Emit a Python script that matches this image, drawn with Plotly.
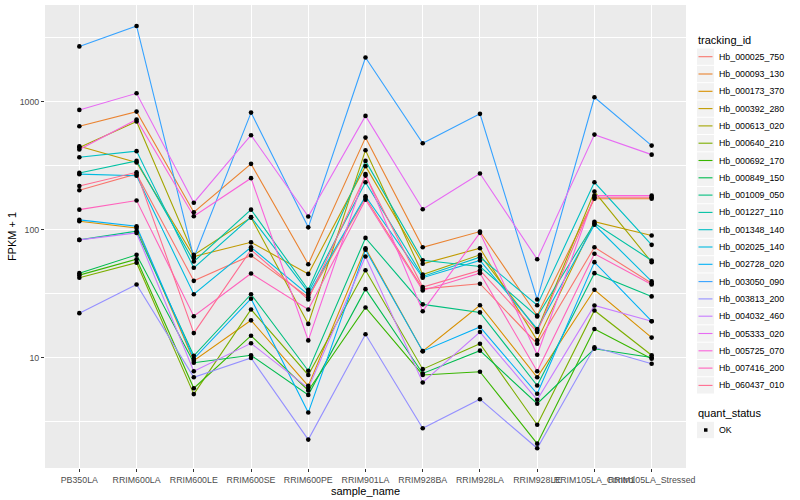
import plotly.graph_objects as go

samples = ["PB350LA", "RRIM600LA", "RRIM600LE", "RRIM600SE", "RRIM600PE", "RRIM901LA",
           "RRIM928BA", "RRIM928LA", "RRIM928LE", "RRIM105LA_Control", "RRIM105LA_Stressed"]

tracking_ids = ["Hb_000025_750", "Hb_000093_130", "Hb_000173_370", "Hb_000392_280", "Hb_000613_020",
                "Hb_000640_210", "Hb_000692_170", "Hb_000849_150", "Hb_001009_050", "Hb_001227_110",
                "Hb_001348_140", "Hb_002025_140", "Hb_002728_020", "Hb_003050_090", "Hb_003813_200",
                "Hb_004032_460", "Hb_005333_020", "Hb_005725_070", "Hb_007416_200", "Hb_060437_010"]

hb_000025_750 = [203, 272, 39.7, 62.7, 29.6, 177, 34.4, 37.7, 12.8, 72.7, 38]
hb_000093_130 = [641, 835, 136.5, 326, 53.6, 523, 72.7, 96.4, 21.3, 174, 174]
hb_000173_370 = [116, 103, 9.42, 19.5, 6.0, 71.4, 11.2, 25.6, 7.0, 33.8, 14.3]
hb_000392_280 = [448, 334, 61.5, 79.4, 45, 313, 54, 71.4, 13.6, 115, 89.8]
hb_000613_020 = [437, 700, 63.4, 124, 18.3, 417, 44.5, 63.4, 16.3, 198, 55.6]
hb_000640_210 = [42, 55, 5.17, 23.7, 7.3, 48.1, 8.1, 12.8, 2.98, 23.3, 10.4]
hb_000692_170 = [44, 58.6, 5.75, 14.8, 5.52, 24.6, 7.3, 7.73, 2.12, 16.7, 9.77]
hb_000849_150 = [45.6, 63.4, 9.1, 10.4, 5.1, 34.2, 7.5, 11.3, 4.35, 11.7, 10.0]
hb_001009_050 = [83, 97, 10.3, 31.2, 7.87, 86, 26, 22.5, 6.04, 45.6, 30]
hb_001227_110 = [277, 344, 56.2, 143, 33.8, 344, 57.5, 51.4, 20.9, 112, 57.3]
hb_001348_140 = [367, 410, 50.2, 125, 32.4, 234, 43, 60.8, 25.6, 234, 75.9]
hb_002025_140 = [271, 263, 31.2, 72.7, 30.9, 182, 42, 57.3, 16.7, 109, 39.3]
hb_002728_020 = [119, 106, 9.77, 28.8, 3.71, 69.4, 11.2, 17.3, 5.2, 55.6, 19.2]
hb_003050_090 = [2700, 3900, 60, 820, 104, 2210, 472, 802, 28.4, 1081, 453]
hb_003813_200 = [22.2, 37.2, 7.0, 9.9, 2.28, 15.2, 2.8, 4.72, 1.95, 12.0, 8.93]
hb_004032_460 = [83, 94, 7.8, 12.9, 5.76, 61.5, 6.38, 15.8, 4.67, 25.5, 19.2]
hb_005333_020 = [861, 1161, 162, 546, 126.5, 773, 144, 274, 58.6, 552, 385]
hb_005725_070 = [422, 724, 127, 252, 13.6, 272, 23, 94.2, 10.5, 184, 184]
hb_007416_200 = [143, 168.5, 21, 45.3, 23.7, 171, 33.4, 45.6, 7.8, 64.6, 37.2]
hb_060437_010 = [219, 280, 15.5, 69.4, 28.4, 264, 35.5, 47.9, 15.8, 179, 179]

series_values = [hb_000025_750, hb_000093_130, hb_000173_370, hb_000392_280, hb_000613_020,
                 hb_000640_210, hb_000692_170, hb_000849_150, hb_001009_050, hb_001227_110,
                 hb_001348_140, hb_002025_140, hb_002728_020, hb_003050_090, hb_003813_200,
                 hb_004032_460, hb_005333_020, hb_005725_070, hb_007416_200, hb_060437_010]

quant_status = ["OK"]

colors = ["#F8766D", "#EA8331", "#D89000", "#C09B00", "#A3A500", "#7CAE00", "#39B600", "#00BB4E",
          "#00BF7D", "#00C1A3", "#00BFC4", "#00BAE0", "#00B0F6", "#35A2FF", "#9590FF", "#C77CFF",
          "#E76BF3", "#FA62DB", "#FF62BC", "#FF6C90"]

y_tick_values = [10, 100, 1000]
y_minor_values = [3.1623, 31.623, 316.23, 3162.3]

FONT = "Liberation Sans"
W, H = 800, 500
ML, MR, MT, MB = 45, 114, 5, 32
PW, PH = W - ML - MR, H - MT - MB


def px_x(px):
    return (px - ML) / PW


def px_y(py):
    return (H - MB - py) / PH


fig = go.Figure()
for name, vals, col in zip(tracking_ids, series_values, colors):
    fig.add_trace(go.Scatter(x=samples, y=vals, mode="lines", name=name,
                             line=dict(color=col, width=1.1), hoverinfo="skip"))

all_x = [s for vals in series_values for s in samples]
all_y = [v for vals in series_values for v in vals]
fig.add_trace(go.Scatter(x=all_x, y=all_y, mode="markers", name=quant_status[0],
                         marker=dict(color="black", size=4.6, symbol="circle")))

# manual ggplot-style legend
shapes = []
annotations = []
key_left, key_right = 697, 714
row0, row_h = 56.7, 17.3
annotations.append(dict(text="tracking_id", x=px_x(696), y=px_y(40.5), xref="paper", yref="paper",
                        xanchor="left", yanchor="middle", showarrow=False,
                        font=dict(size=11, family=FONT, color="black")))
for i, (name, col) in enumerate(zip(tracking_ids, colors)):
    cy = row0 + i * row_h
    shapes.append(dict(type="rect", xref="paper", yref="paper",
                       x0=px_x(key_left), x1=px_x(key_right),
                       y0=px_y(cy - row_h / 2 + 0.5), y1=px_y(cy + row_h / 2 - 0.5),
                       fillcolor="#F2F2F2", line=dict(width=0), layer="below"))
    shapes.append(dict(type="line", xref="paper", yref="paper",
                       x0=px_x(key_left + 1.5), x1=px_x(key_right - 1.5), y0=px_y(cy), y1=px_y(cy),
                       line=dict(color=col, width=1.1)))
    annotations.append(dict(text=name, x=px_x(716.5), y=px_y(cy), xref="paper", yref="paper",
                            xanchor="left", yanchor="middle", showarrow=False,
                            font=dict(size=8.8, family=FONT, color="black")))

annotations.append(dict(text="quant_status", x=px_x(696), y=px_y(413), xref="paper", yref="paper",
                        xanchor="left", yanchor="middle", showarrow=False,
                        font=dict(size=11, family=FONT, color="black")))
qy = 430
shapes.append(dict(type="rect", xref="paper", yref="paper",
                   x0=px_x(key_left), x1=px_x(key_right),
                   y0=px_y(qy - row_h / 2 + 0.5), y1=px_y(qy + row_h / 2 - 0.5),
                   fillcolor="#F2F2F2", line=dict(width=0), layer="below"))
shapes.append(dict(type="rect", xref="paper", yref="paper",
                   x0=px_x(704), x1=px_x(707.5), y0=px_y(qy - 1.75), y1=px_y(qy + 1.75),
                   fillcolor="black", line=dict(width=0)))
annotations.append(dict(text=quant_status[0], x=px_x(716.5), y=px_y(qy), xref="paper", yref="paper",
                        xanchor="left", yanchor="middle", showarrow=False,
                        font=dict(size=8.8, family=FONT, color="black")))

fig.update_layout(
    width=W, height=H,
    margin=dict(l=ML, r=MR, t=MT, b=MB, autoexpand=False),
    paper_bgcolor="white", plot_bgcolor="#EBEBEB",
    font=dict(family=FONT, size=9, color="#000000"),
    showlegend=False,
    shapes=shapes, annotations=annotations,
)

fig.update_xaxes(
    type="category", range=[-0.6, 10.6], showgrid=True, gridcolor="white", gridwidth=1.1,
    ticks="outside", ticklen=3, tickcolor="#333333", tickwidth=1, tickangle=0,
    tickfont=dict(size=8.8, color="#4D4D4D", family=FONT),
    title=dict(text="sample_name", font=dict(size=11, family=FONT), standoff=0),
    zeroline=False, showline=False,
)
fig.update_yaxes(
    type="log", range=[0.136, 3.755], showgrid=True, gridcolor="white", gridwidth=1.1,
    tickvals=y_tick_values, ticktext=[str(v) for v in y_tick_values],
    ticks="outside", ticklen=3, tickcolor="#333333", tickwidth=1,
    tickfont=dict(size=8.8, color="#4D4D4D", family=FONT),
    minor=dict(tickvals=y_minor_values, showgrid=True, gridcolor="white", gridwidth=0.5, ticks=""),
    title=dict(text="FPKM + 1", font=dict(size=11, family=FONT), standoff=0),
    zeroline=False, showline=False,
)

fig.write_html("out.html", config={"displayModeBar": False},
               post_script="document.body.style.margin='0px';document.body.style.overflow='hidden';")
